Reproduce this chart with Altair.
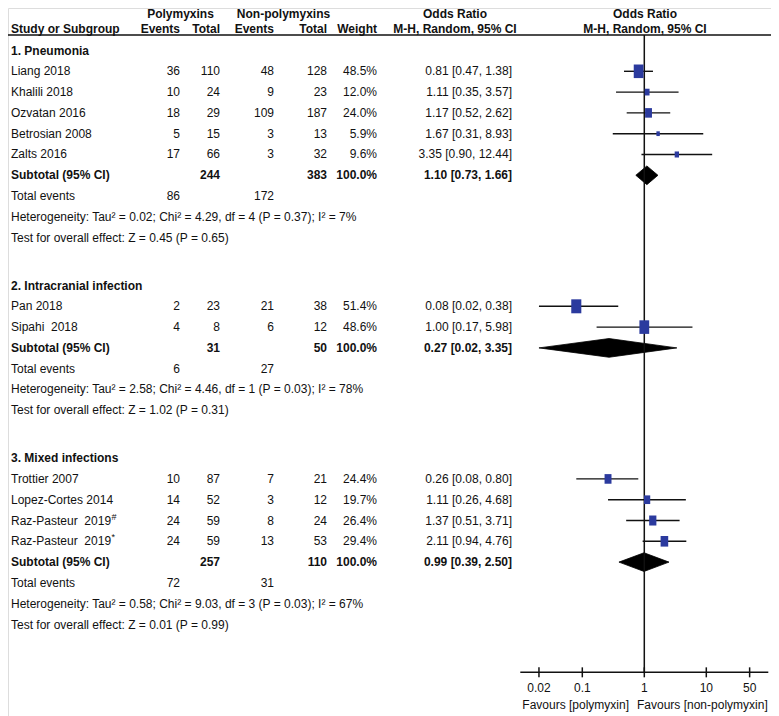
import altair as alt
import pandas as pd

# ---------------- data ----------------
groups = ["1. Pneumonia", "2. Intracranial infection", "3. Mixed infections"]
study_group = [0, 0, 0, 0, 0, 1, 1, 2, 2, 2, 2]
studies = ["Liang 2018", "Khalili 2018", "Ozvatan 2016", "Betrosian 2008", "Zalts 2016",
           "Pan 2018", "Sipahi\u00a0 2018",
           "Trottier 2007", "Lopez-Cortes 2014", "Raz-Pasteur\u00a0 2019", "Raz-Pasteur\u00a0 2019"]
study_sup = ["", "", "", "", "", "", "", "", "", "#", "*"]
poly_events = [36, 10, 18, 5, 17, 2, 4, 10, 14, 24, 24]
poly_total = [110, 24, 29, 15, 66, 23, 8, 87, 52, 59, 59]
non_events = [48, 9, 109, 3, 3, 21, 6, 7, 3, 8, 13]
non_total = [128, 23, 187, 13, 32, 38, 12, 21, 12, 24, 53]
weights = [48.5, 12.0, 24.0, 5.9, 9.6, 51.4, 48.6, 24.4, 19.7, 26.4, 29.4]
or_est = [0.81, 1.11, 1.17, 1.67, 3.35, 0.08, 1.00, 0.26, 1.11, 1.37, 2.11]
or_lo = [0.47, 0.35, 0.52, 0.31, 0.90, 0.02, 0.17, 0.08, 0.26, 0.51, 0.94]
or_hi = [1.38, 3.57, 2.62, 8.93, 12.44, 0.38, 5.98, 0.80, 4.68, 3.71, 4.76]

sub_poly_total = [244, 31, 257]
sub_non_total = [383, 50, 110]
sub_est = [1.10, 0.27, 0.99]
sub_lo = [0.73, 0.02, 0.39]
sub_hi = [1.66, 3.35, 2.50]
tot_poly_events = [86, 6, 72]
tot_non_events = [172, 27, 31]
heterogeneity = [
    "Heterogeneity: Tau\u00b2 = 0.02; Chi\u00b2 = 4.29, df = 4 (P = 0.37); I\u00b2 = 7%",
    "Heterogeneity: Tau\u00b2 = 2.58; Chi\u00b2 = 4.46, df = 1 (P = 0.03); I\u00b2 = 78%",
    "Heterogeneity: Tau\u00b2 = 0.58; Chi\u00b2 = 9.03, df = 3 (P = 0.03); I\u00b2 = 67%",
]
overall = [
    "Test for overall effect: Z = 0.45 (P = 0.65)",
    "Test for overall effect: Z = 1.02 (P = 0.31)",
    "Test for overall effect: Z = 0.01 (P = 0.99)",
]
axis_ticks = [0.02, 0.1, 1, 10, 50]
axis_tick_labels = ["0.02", "0.1", "1", "10", "50"]
favours = ["Favours [polymyxin]", "Favours [non-polymyxin]"]

# ---------------- layout (pixel styling) ----------------
W, H = 763, 708
FONT = "Liberation Sans"
COL = {"study": 3, "pe": 172, "pt": 212, "ne": 266, "nt": 319, "w": 369, "ort": 504,
       "polyhdr": 172.5, "nonhdr": 275.5, "orhdr": 447, "plothdr": 637,
       "favL": 621, "favR": 629}
GROUP_GAP = 2.3
Y_HDR1, Y_HDR2, Y_RULE = -1.75, -1.05, -0.74
Y_AXIS, Y_TICKLAB, Y_FAV = 29.9, 30.67, 31.49
DIAMOND_H = 0.45
BLUE = "#2b3a9e"

yscale = alt.Scale(domain=[0, 27.6], range=[42.5, 616.5])
xscale = alt.Scale(type="log", domain=[0.01, 100], range=[512.3, 760.3])

cells = []   # line, col, align, bold, text
study_rows = []
diamond_rows = []
sup_rows = []

def cell(line, col, align, bold, text):
    cells.append(dict(line=line, col=col, al=align, bold=bold, text=str(text)))

# header
cell(Y_HDR1, "polyhdr", "center", True, "Polymyxins")
cell(Y_HDR1, "nonhdr", "center", True, "Non-polymyxins")
cell(Y_HDR1, "orhdr", "center", True, "Odds Ratio")
cell(Y_HDR1, "plothdr", "center", True, "Odds Ratio")
cell(Y_HDR2, "study", "left", True, "Study or Subgroup")
cell(Y_HDR2, "pe", "right", True, "Events")
cell(Y_HDR2, "pt", "right", True, "Total")
cell(Y_HDR2, "ne", "right", True, "Events")
cell(Y_HDR2, "nt", "right", True, "Total")
cell(Y_HDR2, "w", "right", True, "Weight")
cell(Y_HDR2, "orhdr", "center", True, "M-H, Random, 95% CI")
cell(Y_HDR2, "plothdr", "center", True, "M-H, Random, 95% CI")

line = 0.0
for g, gname in enumerate(groups):
    cell(line, "study", "left", True, gname)
    line += 1
    for i, sg in enumerate(study_group):
        if sg != g:
            continue
        cell(line, "study", "left", False, studies[i])
        cell(line, "pe", "right", False, poly_events[i])
        cell(line, "pt", "right", False, poly_total[i])
        cell(line, "ne", "right", False, non_events[i])
        cell(line, "nt", "right", False, non_total[i])
        cell(line, "w", "right", False, f"{weights[i]:.1f}%")
        cell(line, "ort", "right", False, f"{or_est[i]:.2f} [{or_lo[i]:.2f}, {or_hi[i]:.2f}]")
        study_rows.append(dict(line=line, est=or_est[i], lo=or_lo[i], hi=or_hi[i], w=weights[i]))
        if study_sup[i]:
            sup_rows.append(dict(line=line, text=study_sup[i]))
        line += 1
    cell(line, "study", "left", True, "Subtotal (95% CI)")
    cell(line, "pt", "right", True, sub_poly_total[g])
    cell(line, "nt", "right", True, sub_non_total[g])
    cell(line, "w", "right", True, "100.0%")
    cell(line, "ort", "right", True, f"{sub_est[g]:.2f} [{sub_lo[g]:.2f}, {sub_hi[g]:.2f}]")
    # diamond: closed polygon lo -> top of estimate -> hi -> bottom of estimate
    diamond_rows += [
        dict(sub=g, k=0, yd=line, xd=sub_lo[g]),
        dict(sub=g, k=1, yd=line - DIAMOND_H, xd=sub_est[g]),
        dict(sub=g, k=2, yd=line, xd=sub_hi[g]),
        dict(sub=g, k=3, yd=line + DIAMOND_H, xd=sub_est[g]),
    ]
    line += 1
    cell(line, "study", "left", False, "Total events")
    cell(line, "pe", "right", False, tot_poly_events[g])
    cell(line, "ne", "right", False, tot_non_events[g])
    line += 1
    cell(line, "study", "left", False, heterogeneity[g])
    line += 1
    cell(line, "study", "left", False, overall[g])
    line += GROUP_GAP

cell(Y_FAV, "favL", "right", False, favours[0])
cell(Y_FAV, "favR", "left", False, favours[1])

cells_df = pd.DataFrame(cells)
study_df = pd.DataFrame(study_rows)
diamond_df = pd.DataFrame(diamond_rows)
sup_df = pd.DataFrame(sup_rows)
ticks_df = pd.DataFrame(dict(t=axis_ticks, label=axis_tick_labels,
                             line=[Y_TICKLAB] * len(axis_ticks),
                             y1=[Y_AXIS - 0.24] * len(axis_ticks),
                             y2=[Y_AXIS + 0.24] * len(axis_ticks)))

X_LOG = lambda f: alt.X(f, scale=xscale, axis=None)
Yc = alt.Y("line:Q", scale=yscale, axis=None)

layers = []

# diamonds
layers.append(
    alt.Chart(diamond_df).mark_line(interpolate="linear-closed", fill="#000000", stroke="#000000",
                                    strokeWidth=0.8, strokeJoin="miter")
    .encode(x=X_LOG("xd:Q"), y=alt.Y("yd:Q", scale=yscale, axis=None),
            detail="sub:N", order="k:Q")
)
# vertical line at OR = 1
layers.append(
    alt.Chart(pd.DataFrame({"xv": [1], "a": [Y_RULE], "b": [Y_AXIS]})).mark_rule(color="#111111", strokeWidth=1.5)
    .encode(x=X_LOG("xv:Q"), y=alt.Y("a:Q", scale=yscale, axis=None), y2="b:Q")
)
# CI lines
layers.append(
    alt.Chart(study_df).mark_rule(color="#111111", strokeWidth=1.4)
    .encode(x=X_LOG("lo:Q"), x2="hi:Q", y=Yc)
)
# squares
layers.append(
    alt.Chart(study_df).mark_point(shape="M-0.72,-1H0.72V1H-0.72Z", filled=True, opacity=1,
                                   color=BLUE, strokeWidth=0)
    .encode(x=X_LOG("est:Q"), y=Yc,
            size=alt.Size("w:Q", scale=alt.Scale(domain=[0, 100], range=[0, 380]), legend=None))
)
# axis line
layers.append(
    alt.Chart(pd.DataFrame({"a": [0.01], "b": [100], "line": [Y_AXIS]})).mark_rule(color="#111111", strokeWidth=1.5)
    .encode(x=X_LOG("a:Q"), x2="b:Q", y=Yc)
)
# axis ticks
layers.append(
    alt.Chart(ticks_df).mark_rule(color="#111111", strokeWidth=1.5)
    .encode(x=X_LOG("t:Q"), y=alt.Y("y1:Q", scale=yscale, axis=None), y2="y2:Q")
)
# tick labels
layers.append(
    alt.Chart(ticks_df).mark_text(align="center", baseline="middle", font=FONT, fontSize=12, color="#111111")
    .encode(x=X_LOG("t:Q"), y=Yc, text="label:N")
)

# header rule
layers.append(
    alt.Chart(pd.DataFrame({"line": [Y_RULE]})).mark_rule(color="#111111", strokeWidth=1.5)
    .encode(x=alt.value(0), x2=alt.value(W), y=Yc)
)

# table text: one layer per column / alignment / weight
for (col, align, bold), sub in cells_df.groupby(["col", "al", "bold"], sort=False):
    layers.append(
        alt.Chart(sub[["line", "text"]]).mark_text(
            align=align, baseline="middle", font=FONT, fontSize=12,
            fontWeight="bold" if bold else "normal", color="#111111")
        .encode(x=alt.value(COL[col]), y=Yc, text="text:N")
    )

# superscripts
layers.append(
    alt.Chart(sup_df).mark_text(align="left", baseline="middle", font=FONT, fontSize=9,
                                dy=-4, color="#111111")
    .encode(x=alt.value(103.5), y=Yc, text="text:N")
)

chart = (
    alt.layer(*layers)
    .resolve_scale(size="independent")
    .properties(width=W, height=H, autosize=alt.AutoSizeParams(type="none"),
                padding={"left": 0, "top": 0, "right": 0, "bottom": 0})
    .configure_view(stroke=None)
    .configure(background="white")
)

chart.save("out.html", embed_options={"renderer": "svg", "actions": False})
